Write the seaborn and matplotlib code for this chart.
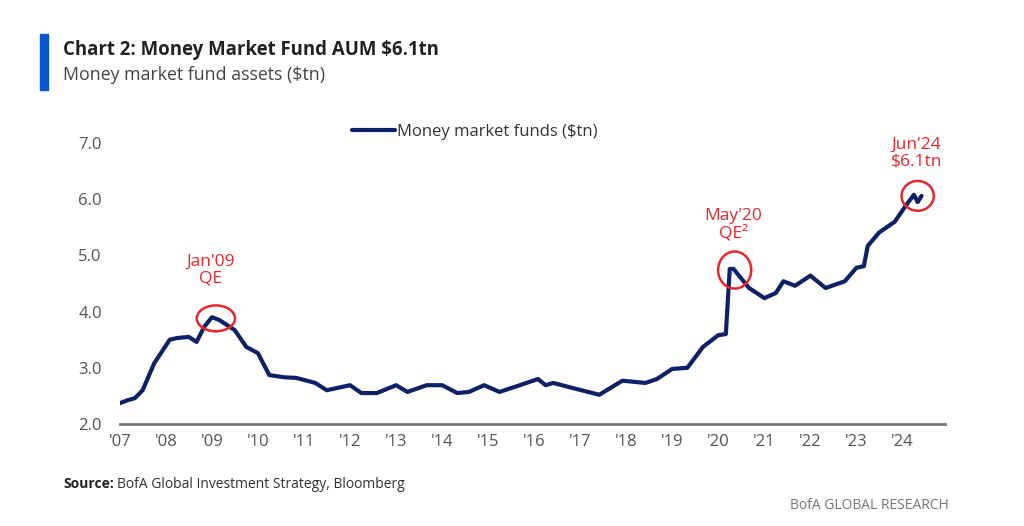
import matplotlib
matplotlib.use("Agg")
import matplotlib.pyplot as plt
import matplotlib.dates as mdates
from matplotlib.patches import Ellipse, Rectangle
import numpy as np
import pandas as pd
import seaborn as sns

# values ($tn)
dates = ["2007-01", "2007-03", "2007-05", "2007-07", "2007-10", "2008-02", "2008-04",
         "2008-07", "2008-09", "2008-11", "2009-01", "2009-03", "2009-07",
         "2009-10", "2010-01", "2010-04", "2010-08", "2010-11", "2011-04",
         "2011-07", "2012-01", "2012-04", "2012-08", "2013-01", "2013-04",
         "2013-09", "2014-01", "2014-05", "2014-08", "2014-12", "2015-04",
         "2015-08", "2016-02", "2016-04", "2016-06", "2016-11", "2017-06",
         "2017-12", "2018-06", "2018-09", "2019-01", "2019-05", "2019-09",
         "2020-01", "2020-03", "2020-04", "2020-05", "2020-09", "2021-01",
         "2021-04", "2021-06", "2021-09", "2022-01", "2022-05", "2022-10",
         "2023-01", "2023-03", "2023-04", "2023-07", "2023-11", "2024-02",
         "2024-04", "2024-05", "2024-06"]
mmf = [2.37, 2.42, 2.46, 2.60, 3.08, 3.50, 3.53,
       3.55, 3.46, 3.73, 3.90, 3.85, 3.67,
       3.37, 3.26, 2.87, 2.83, 2.82, 2.73,
       2.60, 2.69, 2.55, 2.55, 2.69, 2.57,
       2.69, 2.69, 2.55, 2.57, 2.69, 2.57,
       2.66, 2.80, 2.69, 2.73, 2.64, 2.52,
       2.77, 2.73, 2.80, 2.98, 3.00, 3.37,
       3.58, 3.60, 4.76, 4.76, 4.42, 4.24,
       4.33, 4.54, 4.46, 4.64, 4.42, 4.54,
       4.78, 4.81, 5.17, 5.41, 5.60, 5.90,
       6.08, 5.95, 6.06]

years = list(range(2007, 2025))
year_labels = ["'%02d" % (y % 100) for y in years]
y_ticks = [2.0, 3.0, 4.0, 5.0, 6.0, 7.0]

# annotations: (date, value, label, text date, text value, ellipse w yrs, h)
notes = [("2009-02-01", 3.88, "Jan'09\nQE", "2008-12-20", 4.74, 0.83, 0.46),
         ("2020-05-10", 4.74, "May'20\nQE²", "2020-05-01", 5.54, 0.72, 0.66),
         ("2024-05-01", 6.06, "Jun'24\n$6.1tn", "2024-04-20", 6.82, 0.70, 0.53)]

navy = "#0c2168"
red = "#e8262b"
grey = "#555555"

df = pd.DataFrame({"date": pd.to_datetime(dates), "value": mmf})

sns.set_style("white")
plt.rcParams["font.family"] = ["Open Sans", "DejaVu Sans"]

fig = plt.figure(figsize=(10.24, 5.26), dpi=100)
ax = fig.add_axes([0.117, 0.194, 0.806, 0.566])

sns.lineplot(data=df, x="date", y="value", ax=ax, color=navy, lw=3.0,
             label="Money market funds ($tn)")

ax.set_xlim(mdates.date2num(pd.Timestamp("2007-01-01")),
            mdates.date2num(pd.Timestamp("2024-12-05")))
ax.set_ylim(2.0, 7.3)
ax.set_xticks([mdates.date2num(pd.Timestamp("%d-01-01" % y)) for y in years])
ax.set_xticklabels(year_labels)
ax.set_yticks(y_ticks)
ax.set_yticklabels(["%.1f" % v for v in y_ticks])
ax.set_xlabel("")
ax.set_ylabel("")
ax.tick_params(axis="both", length=0, labelsize=12, colors=grey)
ax.tick_params(axis="x", pad=7)
ax.tick_params(axis="y", pad=13)
for s in ["top", "right", "left"]:
    ax.spines[s].set_visible(False)
ax.spines["bottom"].set_color("#777777")
ax.spines["bottom"].set_linewidth(2)

leg = ax.legend(loc="center", bbox_to_anchor=(0.43, 0.98), frameon=False,
                fontsize=12, handlelength=2.6, handletextpad=0.1)
for t in leg.get_texts():
    t.set_color("#333333")

for d, v, txt, td, tv, w, h in notes:
    xc = mdates.date2num(pd.Timestamp(d))
    ax.add_patch(Ellipse((xc, v), w * 365.25, h, fill=False, ec=red, lw=1.8,
                         zorder=5))
    ax.text(mdates.date2num(pd.Timestamp(td)), tv, txt, color=red, fontsize=12.5,
            ha="center", va="center", linespacing=1.1)

# header
fig.patches.append(Rectangle((0.039, 0.828), 0.008, 0.108, transform=fig.transFigure,
                             color="#0a56d0", zorder=3))
fig.text(0.062, 0.905, "Chart 2: Money Market Fund AUM $6.1tn", fontsize=13.4,
         fontweight="bold", color="#222222", va="center")
fig.text(0.062, 0.857, "Money market fund assets ($tn)", fontsize=12.8,
         color="#444444", va="center")

# footer
fig.text(0.062, 0.079, "Source:", fontsize=10, fontweight="bold", color="#222222",
         va="center")
fig.text(0.114, 0.079, "BofA Global Investment Strategy, Bloomberg", fontsize=10,
         color="#333333", va="center")
fig.text(0.927, 0.039, "BofA GLOBAL RESEARCH", fontsize=10, color="#777777",
         ha="right", va="center")

fig.savefig("out.png", dpi=100)
